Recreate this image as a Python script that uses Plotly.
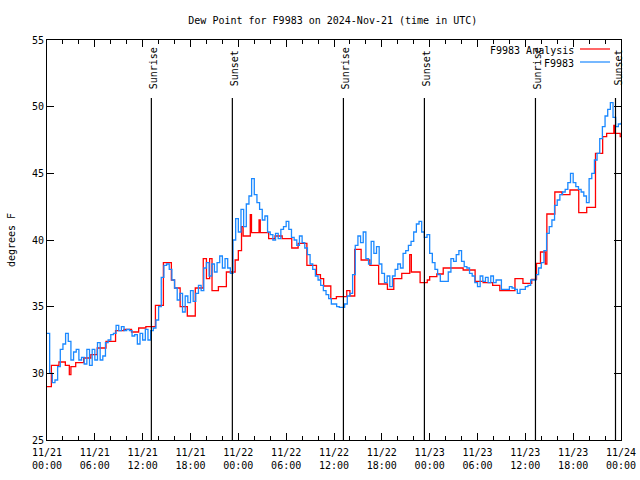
import numpy as np
import pandas as pd
import plotly.graph_objects as go

start = pd.Timestamp("2024-11-21 00:00")

# Observations (F9983), one value every 20 minutes from 11/21 00:00
obs_step_min = 20
obs_values = [
    33.0, 30.0, 29.3, 29.5, 30.5, 31.8, 32.2, 33.0, 32.4, 31.0, 31.6, 31.8, 31.0, 31.2, 30.7, 31.8,
    30.6, 31.8, 31.0, 32.3, 31.0, 31.3, 32.3, 32.5, 32.9, 33.0, 33.6, 33.2, 33.5, 33.2, 33.3, 33.2,
    32.8, 32.9, 32.2, 33.0, 32.5, 33.3, 32.5, 33.2, 33.4, 34.0, 35.0, 37.2, 38.1, 38.2, 37.8, 37.0,
    36.4, 35.5, 36.0, 34.6, 35.8, 35.3, 36.2,
    35.4, 36.0, 36.6, 36.2, 37.9, 38.3, 37.3, 38.2, 37.6, 38.3, 38.8, 37.9, 38.6, 37.9, 37.5,
    40.0, 41.6, 40.6, 42.3, 41.0, 42.7, 43.3, 44.6, 43.4, 42.8, 42.3, 41.5, 41.8, 40.6, 40.4,
    40.0, 40.5, 40.1, 40.8, 41.0, 41.4, 40.8, 40.2, 40.0, 39.6, 40.3, 39.8, 39.4, 38.9, 38.2,
    37.8, 37.3, 37.0, 36.6, 36.2, 35.9, 35.6, 35.2, 35.2,
    35.0, 34.95, 34.95, 35.2, 35.8, 36.0, 37.4, 39.6, 40.3, 39.8, 40.6, 38.6, 38.2, 39.9, 39.0,
    39.5, 38.2, 37.5, 36.8, 37.3, 36.5, 37.3, 37.8, 38.2, 37.9, 39.0, 39.2, 39.6, 39.9, 40.6,
    41.2, 41.4, 40.6, 40.2, 40.4, 39.0, 38.3, 37.8, 37.4, 36.9, 36.9, 36.9, 37.6, 38.6, 38.4,
    38.9, 39.2, 38.4, 38.0, 37.9, 37.5, 37.3, 36.8, 36.5,
    37.3, 36.9, 37.2, 36.8, 37.3, 36.8, 37.0, 37.0, 36.3, 36.3, 36.3, 36.5, 36.4, 36.3, 36.0,
    36.3, 36.3, 36.5, 36.6, 37.0, 37.0, 37.4, 37.9, 38.3, 39.2, 40.5, 41.0, 41.5, 42.6, 43.0,
    43.4, 43.6, 43.8, 44.3, 45.0, 44.3, 44.0, 43.8, 43.6, 43.3, 42.8, 44.6, 45.0, 46.0, 46.5,
    47.6, 48.5, 49.3, 49.8, 50.3, 49.2, 48.5, 48.7, 48.8,
]

# Analysis (F9983 Analysis): hour offsets from 11/21 00:00 and values (step)
anl_hours = [0, 0.55, 1.5, 2.3, 2.8, 3.0, 3.6, 4.6, 5.5, 6.3, 7.4, 8.6, 9.65, 10.6, 11.5, 12.4,
             13.6, 14.6, 15.6, 16.0, 16.7, 17.6, 18.6, 19.6, 20.0, 20.4, 20.7, 21.5, 22.5, 23.6,
             24.0, 24.4, 24.6, 25.5, 25.65, 26.6, 26.75, 27.8, 28.6, 29.5, 30.7, 31.5, 32.6, 33.8,
             34.3, 34.7, 35.6, 36.3, 37.6, 38.0, 38.6, 39.4, 40.5, 41.6, 42.7, 43.5, 44.5, 45.5,
             45.7, 46.8, 47.7, 48.0, 48.9, 49.7, 52.2, 53.7, 54.7, 55.9, 56.8, 58.7, 59.7, 60.8,
             61.4, 61.9, 62.5, 62.7, 63.7, 64.6, 65.6, 66.7, 67.7, 68.8, 69.7, 70.2, 71.1, 71.25,
             71.9, 72.0]
anl_values = [29.0, 30.6, 30.85, 30.6, 29.9, 30.5, 30.8, 31.15, 31.4, 31.9, 32.4, 33.2, 33.3, 33.1,
              33.4, 33.5, 35.1, 38.3, 37.0, 36.4, 35.0, 34.3, 36.4, 38.6, 37.1, 38.6, 36.2, 36.5,
              37.6, 38.5, 39.2, 41.0, 40.3, 41.9, 40.55, 41.5, 40.55, 40.1, 40.3, 40.1, 39.4, 39.75,
              38.1, 37.4, 37.1, 36.55, 35.6, 35.75, 36.2, 35.8, 39.3, 38.5, 38.1, 36.7, 36.3, 37.1,
              37.5, 38.9, 37.6, 36.8, 37.0, 37.25, 37.45, 37.9, 37.75, 36.9, 36.8, 36.6, 36.2, 37.1,
              36.75, 37.05, 38.25, 39.1, 38.2, 41.95, 43.6, 43.4, 43.75, 42.05, 42.45, 46.5, 47.75,
              48.0, 48.6, 48.0, 47.75, 47.75]

# Sunrise / sunset markers (hours from start)
event_hours = [13.09, 23.25, 37.18, 47.34, 61.27, 71.31]
event_labels = ["Sunrise", "Sunset", "Sunrise", "Sunset", "Sunrise", "Sunset"]

# Axis ticks
xtick_hours = list(range(0, 73, 6))
xtick_labels = ["11/21<br>00:00", "11/21<br>06:00", "11/21<br>12:00", "11/21<br>18:00",
                "11/22<br>00:00", "11/22<br>06:00", "11/22<br>12:00", "11/22<br>18:00",
                "11/23<br>00:00", "11/23<br>06:00", "11/23<br>12:00", "11/23<br>18:00",
                "11/24<br>00:00"]
ytick_vals = [25, 30, 35, 40, 45, 50, 55]

FONT = "DejaVu Sans Mono"
RED = "#ff0000"
BLUE = "#1a88ff"

obs_times = start + pd.to_timedelta(np.arange(len(obs_values)) * obs_step_min, unit="min")
anl_times = start + pd.to_timedelta(anl_hours, unit="h")
ev_times = start + pd.to_timedelta(event_hours, unit="h")
xt = start + pd.to_timedelta(xtick_hours, unit="h")

fig = go.Figure()
fig.add_trace(go.Scatter(x=anl_times, y=anl_values, mode="lines", line=dict(color=RED, width=1.3, shape="hv"),
                         name="F9983 Analysis", showlegend=False))
fig.add_trace(go.Scatter(x=obs_times, y=obs_values, mode="lines", line=dict(color=BLUE, width=1.3, shape="hv"),
                         name="F9983", showlegend=False))

for t, lab in zip(ev_times, event_labels):
    fig.add_shape(type="line", xref="x", yref="y", x0=t, x1=t, y0=25, y1=50.65,
                  line=dict(color="black", width=1.2))
    fig.add_annotation(x=t, y=52.9, xref="x", yref="y", text=lab, textangle=-90, showarrow=False,
                       xanchor="center", yanchor="middle", xshift=2, font=dict(family=FONT, size=10, color="black"))

# legend (gnuplot style: text right, sample on right)
for ypx, lab, col in [(50, "F9983 Analysis", RED), (63, "F9983", BLUE)]:
    yp = (440 - ypx) / 400
    fig.add_annotation(x=(576 - 47) / 574, y=yp, xref="paper", yref="paper", text=lab, showarrow=False,
                       xanchor="right", yanchor="middle", font=dict(family=FONT, size=10, color="black"))
    fig.add_shape(type="line", xref="paper", yref="paper", x0=(580 - 47) / 574, x1=(610 - 47) / 574,
                  y0=(440 - ypx + 1) / 400, y1=(440 - ypx + 1) / 400, line=dict(color=col, width=1.2))

fig.update_layout(
    width=640, height=480,
    margin=dict(l=47, r=19, t=40, b=40, autoexpand=False),
    paper_bgcolor="white", plot_bgcolor="white",
    font=dict(family=FONT, size=10, color="black"),
    title=dict(text="Dew Point for F9983 on 2024-Nov-21 (time in UTC)", x=0.52, xanchor="center",
               y=1 - 20 / 480, yanchor="middle", font=dict(family=FONT, size=10, color="black")),
    showlegend=False,
)
fig.update_xaxes(
    range=[start, start + pd.Timedelta(hours=72)], automargin=False,
    tickvals=xt, ticktext=xtick_labels, ticklabelstandoff=3,
    ticks="inside", ticklen=7, tickcolor="black", tickwidth=1,
    showline=True, linecolor="black", linewidth=1, mirror="allticks",
    showgrid=False, zeroline=False,
    minor=dict(ticks="inside", ticklen=4, dtick=2 * 3600 * 1000, tickcolor="black", showgrid=False),
    tickfont=dict(family=FONT, size=10, color="black"),
)
fig.update_yaxes(
    range=[25, 55], tickvals=ytick_vals, automargin=False,
    ticks="inside", ticklen=7, tickcolor="black", tickwidth=1,
    showline=True, linecolor="black", linewidth=1, mirror="allticks",
    showgrid=False, zeroline=False,
    title=dict(text="degrees F", font=dict(family=FONT, size=10, color="black"), standoff=14),
    tickfont=dict(family=FONT, size=10, color="black"),
)

fig.write_html("out.html", config={"displayModeBar": False},
               post_script="document.body.style.margin='0px';document.body.style.padding='0px';")
